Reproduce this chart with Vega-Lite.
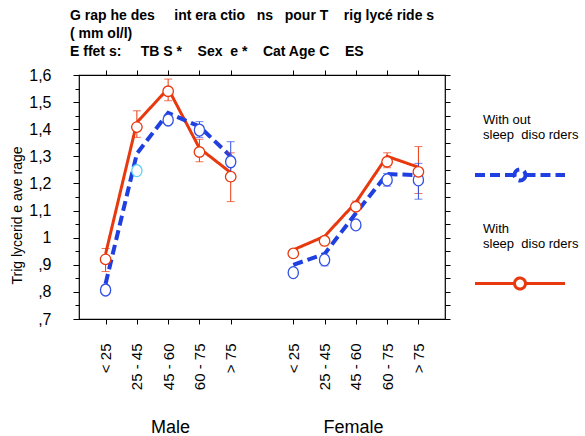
{
  "$schema": "https://vega.github.io/schema/vega-lite/v6.json",
  "width": 366,
  "height": 244,
  "autosize": {"type": "none"},
  "padding": {"left": 79, "top": 75, "right": 140, "bottom": 117},
  "background": "white",
  "config": {
    "view": {"stroke": "black", "strokeWidth": 1.2},
    "font": "Liberation Sans"
  },
  "title": {
    "text": [
      "G rap he des\u00a0\u00a0\u00a0\u00a0 int era ctio\u00a0\u00a0 ns\u00a0\u00a0 pour T\u00a0\u00a0\u00a0 rig lycé ride s",
      "( mm ol/l)",
      "E ffet s:\u00a0\u00a0\u00a0\u00a0 TB S *\u00a0\u00a0\u00a0 Sex\u00a0 e *\u00a0\u00a0\u00a0 Cat Age C\u00a0\u00a0\u00a0 ES"
    ],
    "anchor": "start",
    "frame": "group",
    "dx": -9,
    "offset": 8,
    "font": "Liberation Sans",
    "fontSize": 14,
    "fontWeight": "bold",
    "lineHeight": 18,
    "color": "black"
  },
  "data": {
    "values": [
      {"sex": "Male", "age": "< 25", "key": "Male|< 25", "group": "With", "line": 0.94, "mean": 0.92, "lo": 0.875, "hi": 0.96},
      {"sex": "Male", "age": "25 - 45", "key": "Male|25 - 45", "group": "With", "line": 1.425, "mean": 1.408, "lo": 1.37, "hi": 1.468},
      {"sex": "Male", "age": "45 - 60", "key": "Male|45 - 60", "group": "With", "line": 1.55, "mean": 1.54, "lo": 1.505, "hi": 1.585},
      {"sex": "Male", "age": "60 - 75", "key": "Male|60 - 75", "group": "With", "line": 1.33, "mean": 1.316, "lo": 1.28, "hi": 1.363},
      {"sex": "Male", "age": "> 75", "key": "Male|> 75", "group": "With", "line": 1.24, "mean": 1.225, "lo": 1.133, "hi": 1.313},
      {"sex": "Female", "age": "< 25", "key": "Female|< 25", "group": "With", "line": 0.955, "mean": 0.942, "lo": 0.93, "hi": 0.955},
      {"sex": "Female", "age": "25 - 45", "key": "Female|25 - 45", "group": "With", "line": 1.005, "mean": 0.988, "lo": 0.97, "hi": 1.005},
      {"sex": "Female", "age": "45 - 60", "key": "Female|45 - 60", "group": "With", "line": 1.13, "mean": 1.114, "lo": 1.1, "hi": 1.135},
      {"sex": "Female", "age": "60 - 75", "key": "Female|60 - 75", "group": "With", "line": 1.3, "mean": 1.28, "lo": 1.258, "hi": 1.313},
      {"sex": "Female", "age": "> 75", "key": "Female|> 75", "group": "With", "line": 1.26, "mean": 1.243, "lo": 1.163, "hi": 1.336},
      {"sex": "Male", "age": "< 25", "key": "Male|< 25", "group": "Without", "line": 0.83, "mean": 0.807, "lo": null, "hi": null},
      {"sex": "Male", "age": "25 - 45", "key": "Male|25 - 45", "group": "Without", "line": 1.31, "mean": 1.247, "lo": null, "hi": null},
      {"sex": "Male", "age": "45 - 60", "key": "Male|45 - 60", "group": "Without", "line": 1.46, "mean": 1.434, "lo": null, "hi": null},
      {"sex": "Male", "age": "60 - 75", "key": "Male|60 - 75", "group": "Without", "line": 1.41, "mean": 1.397, "lo": 1.37, "hi": 1.428},
      {"sex": "Male", "age": "> 75", "key": "Male|> 75", "group": "Without", "line": 1.3, "mean": 1.28, "lo": 1.21, "hi": 1.354},
      {"sex": "Female", "age": "< 25", "key": "Female|< 25", "group": "Without", "line": 0.9, "mean": 0.871, "lo": null, "hi": null},
      {"sex": "Female", "age": "25 - 45", "key": "Female|25 - 45", "group": "Without", "line": 0.94, "mean": 0.918, "lo": 0.896, "hi": 0.93},
      {"sex": "Female", "age": "45 - 60", "key": "Female|45 - 60", "group": "Without", "line": 1.09, "mean": 1.047, "lo": null, "hi": null},
      {"sex": "Female", "age": "60 - 75", "key": "Female|60 - 75", "group": "Without", "line": 1.235, "mean": 1.213, "lo": 1.19, "hi": 1.237},
      {"sex": "Female", "age": "> 75", "key": "Female|> 75", "group": "Without", "line": 1.23, "mean": 1.213, "lo": 1.142, "hi": 1.274}
    ]
  },
  "layer": [
    {
      "layer": [
        {
          "mark": {"type": "line", "strokeCap": "butt", "strokeJoin": "miter"},
          "encoding": {
            "x": {
              "field": "key", "type": "ordinal",
              "scale": {"type": "point", "padding": 0.85, "domain": ["Male|< 25", "Male|25 - 45", "Male|45 - 60", "Male|60 - 75", "Male|> 75", "gap", "Female|< 25", "Female|25 - 45", "Female|45 - 60", "Female|60 - 75", "Female|> 75"]},
              "axis": {
                "orient": "bottom",
                "values": ["Male|< 25", "Male|25 - 45", "Male|45 - 60", "Male|60 - 75", "Male|> 75", "Female|< 25", "Female|25 - 45", "Female|45 - 60", "Female|60 - 75", "Female|> 75"],
                "labelExpr": "split(datum.value, '|')[1]",
                "labelAngle": -90,
                "labelPadding": 19,
                "labelFontSize": 15,
                "labelFont": "Liberation Sans",
                "labelColor": "black",
                "tickSize": 5,
                "tickColor": "black",
                "domain": false,
                "title": null
              }
            },
            "y": {
              "field": "line", "type": "quantitative",
              "scale": {"domain": [0.7, 1.6], "zero": false, "nice": false},
              "axis": {
                "orient": "left",
                "values": [0.7, 0.75, 0.8, 0.85, 0.9, 0.95, 1.0, 1.05, 1.1, 1.15, 1.2, 1.25, 1.3, 1.35, 1.4, 1.45, 1.5, 1.55, 1.6],
                "labelExpr": "abs(round(datum.value*20)) % 2 == 1 ? '' : (round(datum.value*10) == 10 ? '1' : (datum.value < 1 ? ',' : '1,') + (round(datum.value*10) % 10))",
                "tickSize": {"condition": {"test": "abs(round(datum.value*20)) % 2 == 1", "value": 4}, "value": 6},
                "tickColor": "black",
                "labelPadding": 22,
                "labelFontSize": 16,
                "labelColor": "black",
                "labelFont": "Liberation Sans",
                "domain": false,
                "grid": false,
                "title": "Trig lycerid e ave rage",
                "titleFont": "Liberation Sans",
                "titleFontSize": 14,
                "titleFontWeight": "normal",
                "titleColor": "black",
                "titleX": -62,
                "titleY": 140,
                "titleAngle": -90,
                "titleBaseline": "middle",
                "titleAlign": "center"
              }
            },
            "color": {
              "field": "group", "type": "nominal",
              "scale": {"domain": ["Without", "With"], "range": ["#1f3fe0", "#e8380d"]},
              "legend": {
                "orient": "none",
                "legendX": 394,
                "legendY": 5,
                "padding": 0,
                "title": null,
                "symbolType": "M-1,1.067L-0.122,1.067M0.122,1.067L1,1.067M0.122,1.067A0.122,0.122 0 1,1 -0.122,1.067A0.122,0.122 0 1,1 0.122,1.067",
                "symbolSize": 8100,
                "symbolStrokeWidth": 3,
                "symbolFillColor": "white",
                "labelFont": "Liberation Sans",
                "labelFontSize": 13,
                "labelColor": "black",
                "labelOffset": -84,
                "labelBaseline": "bottom",
                "labelLimit": 0,
                "rowPadding": 0,
                "labelExpr": "datum.value == 'Without' ? ['With out', 'sleep\u00a0 diso rders'] : ['With', 'sleep\u00a0 diso rders']",
                "encoding": {
                  "labels": {"update": {"lineHeight": {"value": 19}}}
                }
              }
            },
            "strokeDash": {
              "field": "group", "type": "nominal",
              "scale": {"domain": ["Without", "With"], "range": [[10, 5], [1, 0]]}
            },
            "strokeWidth": {
              "field": "group", "type": "nominal",
              "scale": {"domain": ["Without", "With"], "range": [4, 3]},
              "legend": null
            },
            "detail": {"field": "sex"},
            "order": {"value": null}
          }
        },
        {
          "transform": [{"filter": "isValid(datum.lo) && datum.group == 'With'"}],
          "mark": {"type": "errorbar", "ticks": {"size": 8}, "thickness": 1, "color": "#e8380d"},
          "encoding": {
            "x": {"field": "key", "type": "ordinal", "axis": null},
            "y": {"field": "lo", "type": "quantitative", "axis": null},
            "y2": {"field": "hi"}
          }
        },
        {
          "transform": [{"filter": "isValid(datum.lo) && datum.group == 'Without'"}],
          "mark": {"type": "errorbar", "ticks": {"size": 8}, "thickness": 1, "color": "#3050e6"},
          "encoding": {
            "x": {"field": "key", "type": "ordinal", "axis": null},
            "y": {"field": "lo", "type": "quantitative", "axis": null},
            "y2": {"field": "hi"}
          }
        },
        {
          "transform": [{"filter": "datum.group == 'Without'"}],
          "mark": {"type": "point", "filled": false, "fill": "white", "fillOpacity": 1, "strokeWidth": 1.3, "opacity": 1, "size": 144, "shape": "M-0.85,0A0.85,1 0 1,0 0.85,0A0.85,1 0 1,0 -0.85,0Z"},
          "encoding": {
            "x": {"field": "key", "type": "ordinal", "axis": null},
            "y": {"field": "mean", "type": "quantitative", "axis": null},
            "stroke": {
              "condition": {"test": "datum.sex == 'Male' && datum.age == '25 - 45'", "value": "#5cd3f0"},
              "value": "#3050e6"
            }
          }
        },
        {
          "transform": [{"filter": "datum.group == 'With'"}],
          "mark": {"type": "point", "filled": false, "fill": "white", "fillOpacity": 1, "strokeWidth": 1.3, "opacity": 1, "size": 110, "shape": "circle", "stroke": "#e8380d"},
          "encoding": {
            "x": {"field": "key", "type": "ordinal", "axis": null},
            "y": {"field": "mean", "type": "quantitative", "axis": null}
          }
        },
        {
          "mark": {"type": "point", "opacity": 0},
          "encoding": {
            "x": {
              "field": "key", "type": "ordinal",
              "axis": {
                "orient": "top",
                "values": ["Male|< 25", "Male|25 - 45", "Male|45 - 60", "Male|60 - 75", "Male|> 75", "Female|< 25", "Female|25 - 45", "Female|45 - 60", "Female|60 - 75", "Female|> 75"],
                "labels": false, "domain": false, "tickSize": 5, "tickColor": "black", "title": null
              }
            },
            "y": {
              "field": "mean", "type": "quantitative",
              "axis": {
                "orient": "right",
                "values": [0.7, 0.75, 0.8, 0.85, 0.9, 0.95, 1.0, 1.05, 1.1, 1.15, 1.2, 1.25, 1.3, 1.35, 1.4, 1.45, 1.5, 1.55, 1.6],
                "labels": false, "domain": false, "tickSize": 5, "tickColor": "black", "title": null, "grid": false
              }
            }
          }
        }
      ],
      "resolve": {"axis": {"x": "independent", "y": "independent"}}
    },
    {
      "mark": {"type": "point", "opacity": 0},
      "encoding": {
        "x": {
          "field": "sex", "type": "nominal",
          "scale": {"type": "band", "domain": ["Male", "Female"], "paddingInner": 0, "paddingOuter": 0},
          "axis": {
            "orient": "bottom",
            "labelAngle": 0,
            "labelPadding": 99,
            "labelBaseline": "top",
            "labelFontSize": 18,
            "labelFont": "Liberation Sans",
            "labelColor": "black",
            "ticks": false,
            "domain": false,
            "title": null
          }
        }
      }
    }
  ],
  "resolve": {"scale": {"x": "independent"}}
}
